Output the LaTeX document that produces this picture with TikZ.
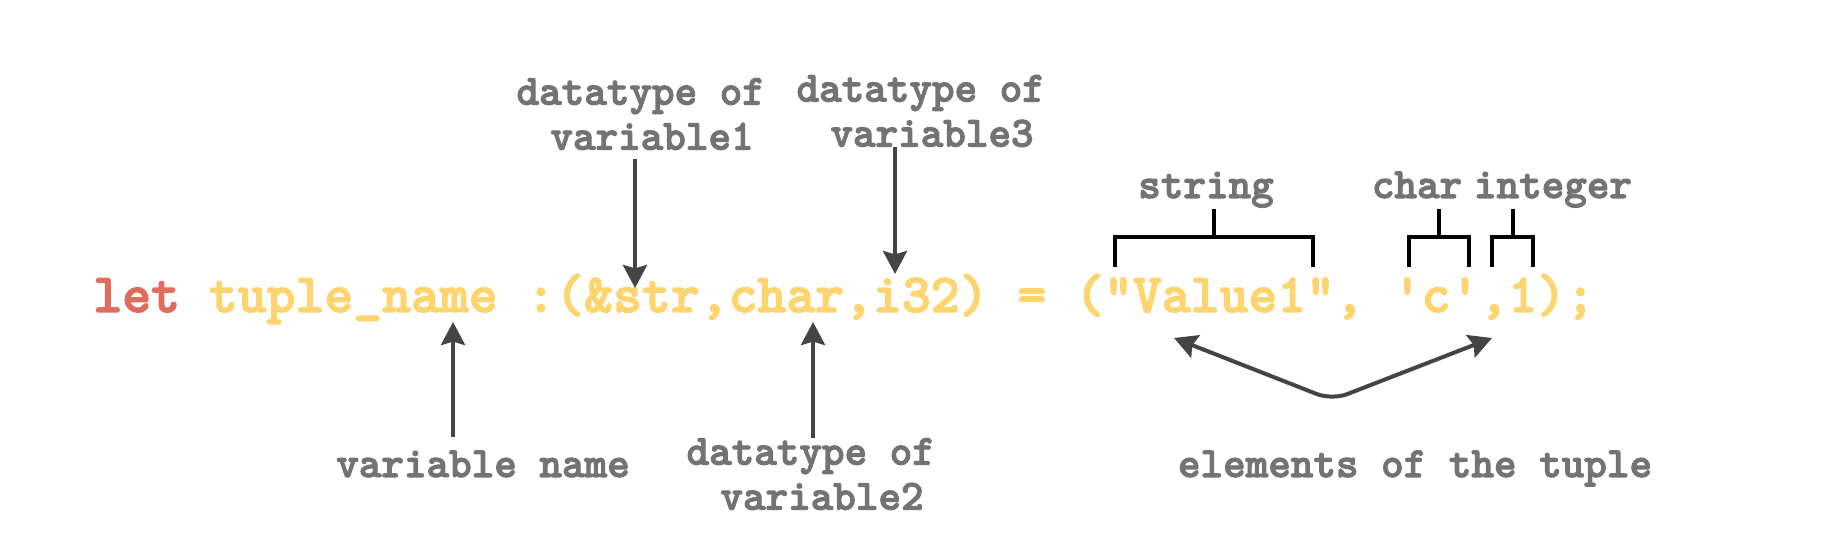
\documentclass[tikz,border=0pt]{standalone}
\usepackage{fontspec}
\setmonofont{lmmonolt10-regular.otf}[BoldFont=lmmonolt10-bold.otf, BoldFeatures={FakeBold=2.5}]
\usetikzlibrary{arrows.meta}
\definecolor{codeyellow}{HTML}{FDD46E}
\definecolor{keyred}{HTML}{E06C5E}
\definecolor{notegray}{HTML}{737373}
\definecolor{arrowgray}{HTML}{444444}
\tikzset{
    gtip/.tip={Stealth[length=11.5pt,width=12pt,inset=1.7pt]},
    code/.style={inner sep=0pt, text=codeyellow, font=\ttfamily\bfseries\fontsize{27.5}{30}\selectfont},
    note/.style={inner sep=0pt, text=notegray, align=center, font=\ttfamily\bfseries\fontsize{21.5}{22.5}\selectfont},
    arr/.style={draw=arrowgray, line width=2pt, -gtip},
    brkt/.style={draw=black, line width=2.3pt},
}
\begin{document}
\begin{tikzpicture}[x=0.5pt,y=-0.5pt]
    \useasboundingbox (0,0) rectangle (1846,560);
    \node[code, anchor=base west] (code) at (93,312) {\textcolor{keyred}{let} tuple\_name :(\&str,char,i32) = ("Value1", 'c',1);};

    % labels
    \node[note, anchor=base] (vname) at (483,477) {variable name};
    \node[note] (type1) at (652,114) {datatype of\hphantom{x}\\variable1};
    \node[note] (type2) at (822,474) {datatype of\hphantom{x}\\variable2};
    \node[note] (type3) at (932,111) {datatype of\hphantom{x}\\variable3};
    \node[note, anchor=base] (str) at (1206,198) {string};
    \node[note, anchor=base] (chr) at (1417,198) {char};
    \node[note, anchor=base] (int) at (1553,198) {integer};
    \node[note, anchor=base] (elems) at (1415,477) {elements of the tuple};

    % where the arrows point
    \foreach \n/\x/\y in {tipname/453/322, tiptype2/813/322, tiptype1/635/288, tiptype3/895/274}
        \coordinate (\n) at (\x,\y);
    \draw[arr, shorten <=6.5pt] (vname.north -| tipname) -- (tipname);
    \draw[arr] (type2.north -| tiptype2) -- (tiptype2);
    \draw[arr, shorten <=4.5pt] (type1.south -| tiptype1) -- (tiptype1);
    \draw[arr] (type3.south -| tiptype3) -- (tiptype3);

    % brackets over the values
    \foreach \l/\s/\r in {1115/1214/1313, 1409/1439/1469, 1492/1513/1533}
        \draw[brkt] (\l,267) |- (\r,237) -- (\r,267) (\s,237) -- (\s,209);

    \coordinate (elemL) at (1174,338);
    \coordinate (elemV) at (1332,400);
    \coordinate (elemR) at (1492,338);
    \draw[arr, gtip-gtip, rounded corners=8pt] (elemL) -- (elemV) -- (elemR);
\end{tikzpicture}
\end{document}
